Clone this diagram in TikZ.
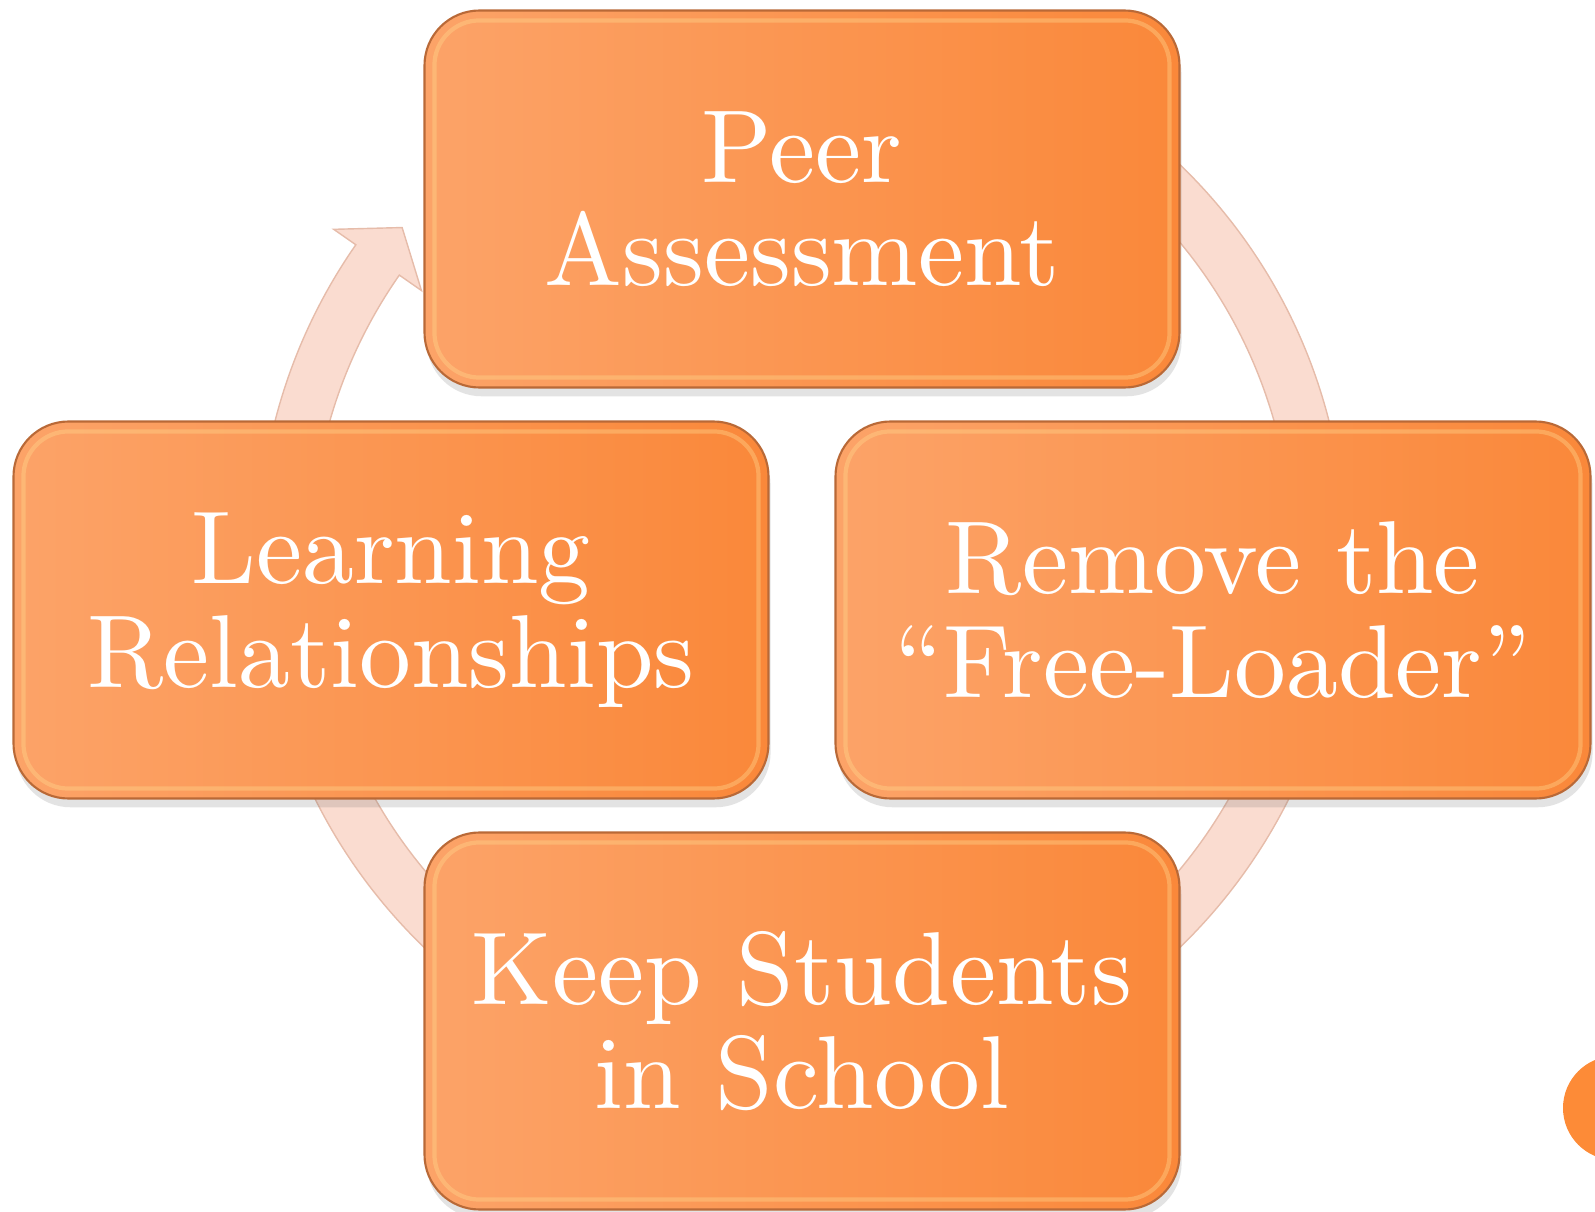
\documentclass[tikz,border=0pt]{standalone}
\usepackage{fontspec}
\setmainfont{lmroman10-regular}[Extension=.otf]
\usepackage{tikz}
\usetikzlibrary{shadows}
\definecolor{boxlight}{RGB}{252,163,104}
\definecolor{boxdark}{RGB}{250,136,58}
\definecolor{boxedge}{RGB}{185,105,55}
\definecolor{boxhi}{RGB}{255,214,140}
\definecolor{ringfill}{RGB}{250,220,208}
\definecolor{ringedge}{RGB}{230,188,170}
\definecolor{pagedot}{RGB}{253,139,55}

\tikzset{
  cyclebox/.style={rectangle, rounded corners=0.55cm, minimum width=7.55cm,
    minimum height=3.77cm, left color=boxlight, right color=boxdark,
    draw=boxedge, line width=0.6pt, text=white, align=center,
    font=\fontsize{29.5}{29.5}\selectfont,
    drop shadow={shadow xshift=0.6pt, shadow yshift=-2.5pt, opacity=0.18, fill=black!60}},
  innerframe/.style={draw=boxhi, line width=1.2pt, opacity=0.4, rounded corners=0.45cm}
}

\begin{document}
\begin{tikzpicture}
\useasboundingbox (0,0) rectangle (15.95,12.11);

% circular arrow behind the boxes
\begin{scope}[shift={(8.02,6.55)}]
\filldraw[fill=ringfill, draw=ringedge, line width=0.4pt]
  (100:5.44) arc[start angle=100, end angle=-214.9, radius=5.44]
  -- (-214.9:5.71) -- (-219.4:5.175) -- (-214.9:4.64) -- (-214.9:4.91)
  arc[start angle=-214.9, end angle=100, radius=4.91] -- cycle;
\end{scope}

\node[cyclebox] (peer) at (8.02,10.12) {Peer\\Assessment};
\node[cyclebox] (learn) at (3.91,6.01) {Learning\\Relationships};
\node[cyclebox] (free) at (12.13,6.01) {Remove the\\``Free-Loader''};
\node[cyclebox] (keep) at (8.02,1.90) {Keep Students\\in School};

\foreach \b in {peer,learn,free,keep}
  \draw[innerframe] ([shift={(0.11,0.11)}]\b.south west) rectangle ([shift={(-0.11,-0.11)}]\b.north east);

% page marker
\begin{scope}
\clip (0,0) rectangle (15.95,12.11);
\fill[pagedot] (16.15,1.03) circle (0.52);
\end{scope}
\end{tikzpicture}
\end{document}
